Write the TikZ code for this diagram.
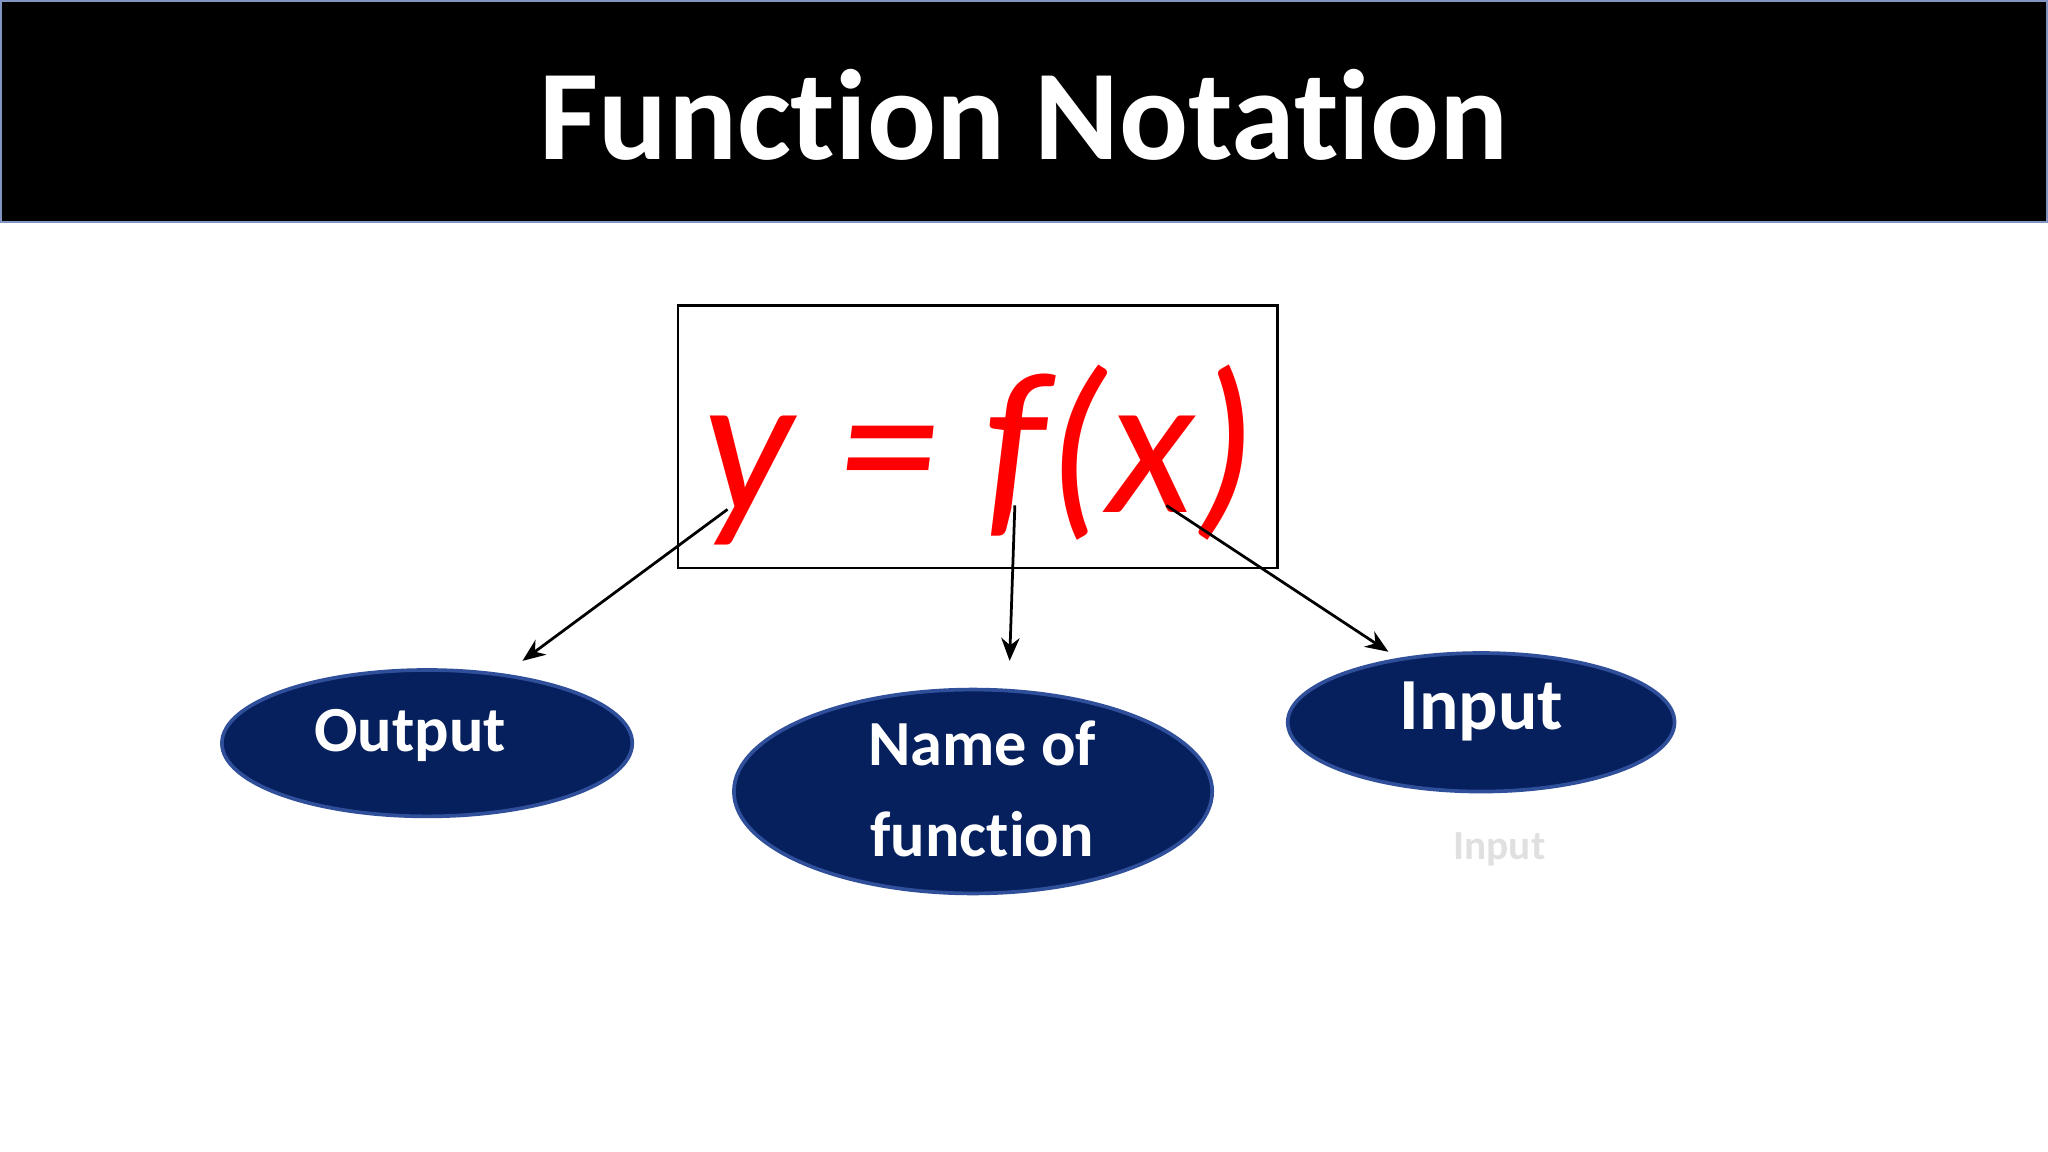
\documentclass[tikz,border=0pt]{standalone}
\usepackage{fontspec}
\setmainfont{Carlito}[Ligatures={NoCommon}]
\usetikzlibrary{shapes.geometric,arrows.meta}
\definecolor{navy}{HTML}{06205E}
\definecolor{navyb}{HTML}{2F4F9A}
\tikzset{
  bubble/.style={ellipse,fill=navy,draw=navyb,line width=0.8pt,text=white,font=\bfseries,align=center,inner sep=0pt},
  conn/.style={-{Stealth[length=5pt,width=4pt]},line width=0.6pt}
}
\begin{document}
\begin{tikzpicture}[x=0.01cm,y=-0.01cm]
\useasboundingbox (0,0) rectangle (1568,882);
\fill[white] (0,0) rectangle (1568,882);
\draw[fill=black,draw=navyb!60,line width=0.6pt] (0.5,0.5) rectangle (1567.5,170);
\node[text=white,font=\fontsize{28}{32}\selectfont\bfseries] (title) at (784,88) {Function Notation};
\draw[line width=0.5pt] (519,234) rectangle (978,435);
\node[text=red,font=\fontsize{44}{48}\selectfont\itshape] (eq) at (750,348) {y = f(x)};
\coordinate (ys) at (557,390);
\coordinate (fs) at (777,387);
\coordinate (xs) at (893,387);
\coordinate (ye) at (400,506);
\coordinate (fe) at (773,506);
\coordinate (xe) at (1063,499);
\node[bubble,minimum width=3.14cm,minimum height=1.12cm,font=\fontsize{14}{16}\selectfont\bfseries] (out) at (327,569) {};
\node[text=white,font=\fontsize{14}{16}\selectfont\bfseries] (outt) at (314,563) {Output};
\node[bubble,minimum width=3.66cm,minimum height=1.56cm,font=\fontsize{14}{22}\selectfont\bfseries] (name) at (745,606) {};
\node[text=white,align=center,font=\fontsize{14}{20}\selectfont\bfseries] (namet) at (752,604) {Name of\\ function};
\node[bubble,minimum width=2.96cm,minimum height=1.06cm] (inp) at (1134,553) {};
\node[text=white,font=\fontsize{16}{18}\selectfont\bfseries] (inpt) at (1134,545) {Input};
\node[text=black!12,font=\fontsize{9}{11}\selectfont\bfseries] (ghost) at (1148,650) {Input};
\draw[conn] (ys) -- (ye);
\draw[conn] (fs) -- (fe);
\draw[conn] (xs) -- (xe);
\end{tikzpicture}
\end{document}
